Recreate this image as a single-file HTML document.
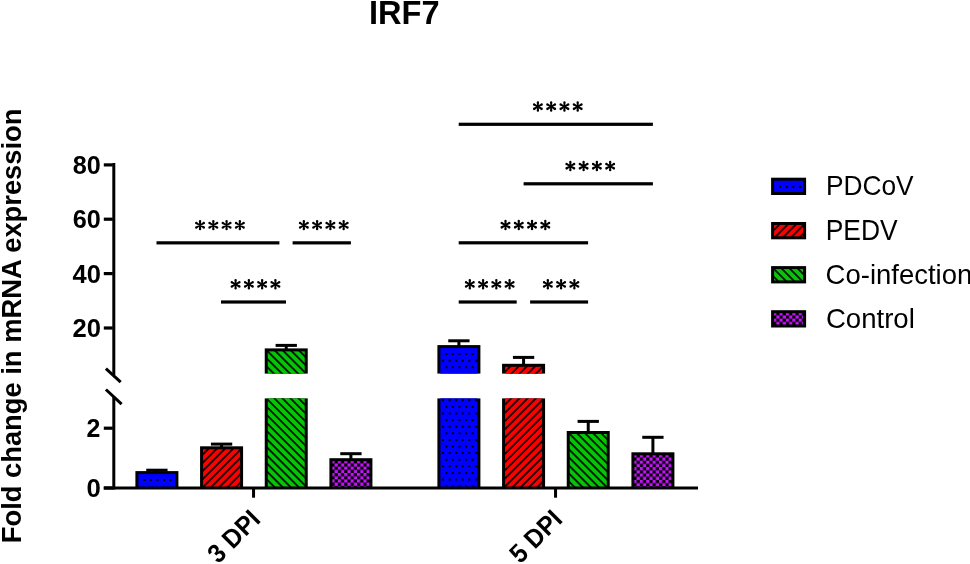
<!DOCTYPE html>
<html><head><meta charset="utf-8"><style>
html,body{margin:0;padding:0;background:#fff;width:970px;height:564px;overflow:hidden;}
svg{display:block;will-change:transform;}
</style></head><body>
<svg width="970" height="564" viewBox="0 0 970 564"><defs><pattern id="p3" patternUnits="userSpaceOnUse" width="5.8" height="5.8" patternTransform="translate(202.77 446.30) rotate(45)"><rect width="5.8" height="5.8" fill="#ff0000"/><rect x="-0.82" width="1.65" height="5.8" fill="#000"/><rect x="4.97" width="1.65" height="5.8" fill="#000"/></pattern><pattern id="p4" patternUnits="userSpaceOnUse" width="5.8" height="5.8" patternTransform="translate(504.77 363.80) rotate(45)"><rect width="5.8" height="5.8" fill="#ff0000"/><rect x="-0.82" width="1.65" height="5.8" fill="#000"/><rect x="4.97" width="1.65" height="5.8" fill="#000"/></pattern><pattern id="p5" patternUnits="userSpaceOnUse" width="5.7" height="5.7" patternTransform="translate(264.74 348.40) rotate(-45)"><rect width="5.7" height="5.7" fill="#08c408"/><rect x="-0.82" width="1.65" height="5.7" fill="#000"/><rect x="4.88" width="1.65" height="5.7" fill="#000"/></pattern><pattern id="p6" patternUnits="userSpaceOnUse" width="5.7" height="5.7" patternTransform="translate(566.74 431.00) rotate(-45)"><rect width="5.7" height="5.7" fill="#08c408"/><rect x="-0.82" width="1.65" height="5.7" fill="#000"/><rect x="4.88" width="1.65" height="5.7" fill="#000"/></pattern><pattern id="p7" patternUnits="userSpaceOnUse" x="331.41" y="460.20" width="6.4" height="6.4"><rect width="6.4" height="6.4" fill="#000"/><rect width="3.2" height="3.2" fill="#c414fa"/><rect x="3.2" y="3.2" width="3.2" height="3.2" fill="#c414fa"/></pattern><pattern id="p8" patternUnits="userSpaceOnUse" x="633.41" y="454.30" width="6.4" height="6.4"><rect width="6.4" height="6.4" fill="#000"/><rect width="3.2" height="3.2" fill="#c414fa"/><rect x="3.2" y="3.2" width="3.2" height="3.2" fill="#c414fa"/></pattern><pattern id="p9" patternUnits="userSpaceOnUse" width="5.8" height="5.8" patternTransform="translate(773.80 222.00) rotate(45)"><rect width="5.8" height="5.8" fill="#ff0000"/><rect x="-0.82" width="1.65" height="5.8" fill="#000"/><rect x="4.97" width="1.65" height="5.8" fill="#000"/></pattern><pattern id="p10" patternUnits="userSpaceOnUse" width="5.7" height="5.7" patternTransform="translate(771.10 266.10) rotate(-45)"><rect width="5.7" height="5.7" fill="#08c408"/><rect x="-0.82" width="1.65" height="5.7" fill="#000"/><rect x="4.88" width="1.65" height="5.7" fill="#000"/></pattern><pattern id="p11" patternUnits="userSpaceOnUse" x="773.10" y="312.20" width="6.4" height="6.4"><rect width="6.4" height="6.4" fill="#000"/><rect width="3.2" height="3.2" fill="#c414fa"/><rect x="3.2" y="3.2" width="3.2" height="3.2" fill="#c414fa"/></pattern></defs><text transform="translate(368.92 23.90) scale(0.9733 1)" font-family='"Liberation Sans", sans-serif' font-weight="bold" font-size="33.48">IRF7</text>
<text transform="translate(21.3 543.21) rotate(-90) scale(1 1.03)" font-family='"Liberation Sans", sans-serif' font-weight="bold" font-size="27.33">Fold change in mRNA expression</text>
<rect x="112.30" y="163" width="3" height="212" fill="#000"/>
<rect x="112.30" y="397" width="3" height="92.5" fill="#000"/>
<path d="M105.9 368.6L120.7 382.1M105.9 389.5L121.6 404.2" stroke="#000" stroke-width="3" fill="none"/>
<rect x="103.8" y="486.5" width="594.2" height="3" fill="#000"/>
<rect x="103.8" y="163.3" width="9" height="3.2" fill="#000"/>
<text transform="translate(72.64 173.94) scale(0.9668 1)" font-family='"Liberation Sans", sans-serif' font-weight="bold" font-size="26.06">80</text>
<rect x="103.8" y="217.6" width="9" height="3.2" fill="#000"/>
<text transform="translate(72.79 228.14) scale(0.9740 1)" font-family='"Liberation Sans", sans-serif' font-weight="bold" font-size="25.92">60</text>
<rect x="103.8" y="272.0" width="9" height="3.2" fill="#000"/>
<text transform="translate(72.49 282.54) scale(0.9903 1)" font-family='"Liberation Sans", sans-serif' font-weight="bold" font-size="25.77">40</text>
<rect x="103.8" y="326.4" width="9" height="3.2" fill="#000"/>
<text transform="translate(72.43 336.64) scale(0.9978 1)" font-family='"Liberation Sans", sans-serif' font-weight="bold" font-size="25.63">20</text>
<rect x="103.8" y="426.6" width="9" height="3.2" fill="#000"/>
<text transform="translate(86.55 437.40) scale(0.9683 1)" font-family='"Liberation Sans", sans-serif' font-weight="bold" font-size="25.71">2</text>
<rect x="103.8" y="486.4" width="9" height="3.2" fill="#000"/>
<text transform="translate(86.47 497.14) scale(0.9934 1)" font-family='"Liberation Sans", sans-serif' font-weight="bold" font-size="25.92">0</text>
<rect x="252.05" y="488" width="3" height="9.7" fill="#000"/>
<text transform="translate(261.85 520.9) rotate(-45) scale(0.955 1.02)" text-anchor="end" font-family='"Liberation Sans", sans-serif' font-weight="bold" font-size="25.8">3 DPI</text>
<rect x="554.05" y="488" width="3" height="9.7" fill="#000"/>
<text transform="translate(563.85 520.9) rotate(-45) scale(0.955 1.02)" text-anchor="end" font-family='"Liberation Sans", sans-serif' font-weight="bold" font-size="25.8">5 DPI</text>
<rect x="135.40" y="471.10" width="43.00" height="16.90" fill="#000"/><rect x="138.40" y="474.10" width="37.00" height="12.40" fill="#0000ff"/><path d="M143.40 479.10h2.00v2.00h-2.00zM149.95 479.10h2.00v2.00h-2.00zM156.50 479.10h2.00v2.00h-2.00zM163.05 479.10h2.00v2.00h-2.00zM169.60 479.10h2.00v2.00h-2.00z" fill="#000"/>
<rect x="146.25" y="468.70" width="21.30" height="3" fill="#000"/><rect x="155.40" y="469.70" width="3" height="2.40" fill="#000"/>
<rect x="437.40" y="345.10" width="43.00" height="28.50" fill="#000"/><rect x="440.40" y="348.10" width="37.00" height="25.50" fill="#0000ff"/><rect x="437.40" y="398.40" width="43.00" height="89.60" fill="#000"/><rect x="440.40" y="398.40" width="37.00" height="88.10" fill="#0000ff"/><path d="M445.40 353.10h2.00v2.00h-2.00zM451.95 353.10h2.00v2.00h-2.00zM458.50 353.10h2.00v2.00h-2.00zM465.05 353.10h2.00v2.00h-2.00zM471.60 353.10h2.00v2.00h-2.00zM442.12 359.70h2.00v2.00h-2.00zM448.68 359.70h2.00v2.00h-2.00zM455.23 359.70h2.00v2.00h-2.00zM461.77 359.70h2.00v2.00h-2.00zM468.32 359.70h2.00v2.00h-2.00zM474.88 359.70h2.00v2.00h-2.00zM445.40 366.30h2.00v2.00h-2.00zM451.95 366.30h2.00v2.00h-2.00zM458.50 366.30h2.00v2.00h-2.00zM465.05 366.30h2.00v2.00h-2.00zM471.60 366.30h2.00v2.00h-2.00zM442.12 399.30h2.00v2.00h-2.00zM448.68 399.30h2.00v2.00h-2.00zM455.23 399.30h2.00v2.00h-2.00zM461.77 399.30h2.00v2.00h-2.00zM468.32 399.30h2.00v2.00h-2.00zM474.88 399.30h2.00v2.00h-2.00zM445.40 405.90h2.00v2.00h-2.00zM451.95 405.90h2.00v2.00h-2.00zM458.50 405.90h2.00v2.00h-2.00zM465.05 405.90h2.00v2.00h-2.00zM471.60 405.90h2.00v2.00h-2.00zM442.12 412.50h2.00v2.00h-2.00zM448.68 412.50h2.00v2.00h-2.00zM455.23 412.50h2.00v2.00h-2.00zM461.77 412.50h2.00v2.00h-2.00zM468.32 412.50h2.00v2.00h-2.00zM474.88 412.50h2.00v2.00h-2.00zM445.40 419.10h2.00v2.00h-2.00zM451.95 419.10h2.00v2.00h-2.00zM458.50 419.10h2.00v2.00h-2.00zM465.05 419.10h2.00v2.00h-2.00zM471.60 419.10h2.00v2.00h-2.00zM442.12 425.70h2.00v2.00h-2.00zM448.68 425.70h2.00v2.00h-2.00zM455.23 425.70h2.00v2.00h-2.00zM461.77 425.70h2.00v2.00h-2.00zM468.32 425.70h2.00v2.00h-2.00zM474.88 425.70h2.00v2.00h-2.00zM445.40 432.30h2.00v2.00h-2.00zM451.95 432.30h2.00v2.00h-2.00zM458.50 432.30h2.00v2.00h-2.00zM465.05 432.30h2.00v2.00h-2.00zM471.60 432.30h2.00v2.00h-2.00zM442.12 438.90h2.00v2.00h-2.00zM448.68 438.90h2.00v2.00h-2.00zM455.23 438.90h2.00v2.00h-2.00zM461.77 438.90h2.00v2.00h-2.00zM468.32 438.90h2.00v2.00h-2.00zM474.88 438.90h2.00v2.00h-2.00zM445.40 445.50h2.00v2.00h-2.00zM451.95 445.50h2.00v2.00h-2.00zM458.50 445.50h2.00v2.00h-2.00zM465.05 445.50h2.00v2.00h-2.00zM471.60 445.50h2.00v2.00h-2.00zM442.12 452.10h2.00v2.00h-2.00zM448.68 452.10h2.00v2.00h-2.00zM455.23 452.10h2.00v2.00h-2.00zM461.77 452.10h2.00v2.00h-2.00zM468.32 452.10h2.00v2.00h-2.00zM474.88 452.10h2.00v2.00h-2.00zM445.40 458.70h2.00v2.00h-2.00zM451.95 458.70h2.00v2.00h-2.00zM458.50 458.70h2.00v2.00h-2.00zM465.05 458.70h2.00v2.00h-2.00zM471.60 458.70h2.00v2.00h-2.00zM442.12 465.30h2.00v2.00h-2.00zM448.68 465.30h2.00v2.00h-2.00zM455.23 465.30h2.00v2.00h-2.00zM461.77 465.30h2.00v2.00h-2.00zM468.32 465.30h2.00v2.00h-2.00zM474.88 465.30h2.00v2.00h-2.00zM445.40 471.90h2.00v2.00h-2.00zM451.95 471.90h2.00v2.00h-2.00zM458.50 471.90h2.00v2.00h-2.00zM465.05 471.90h2.00v2.00h-2.00zM471.60 471.90h2.00v2.00h-2.00zM442.12 478.50h2.00v2.00h-2.00zM448.68 478.50h2.00v2.00h-2.00zM455.23 478.50h2.00v2.00h-2.00zM461.77 478.50h2.00v2.00h-2.00zM468.32 478.50h2.00v2.00h-2.00zM474.88 478.50h2.00v2.00h-2.00zM445.40 485.10h2.00v1.40h-2.00zM451.95 485.10h2.00v1.40h-2.00zM458.50 485.10h2.00v1.40h-2.00zM465.05 485.10h2.00v1.40h-2.00zM471.60 485.10h2.00v1.40h-2.00z" fill="#000"/>
<rect x="448.25" y="339.30" width="21.30" height="3" fill="#000"/><rect x="457.40" y="340.30" width="3" height="5.80" fill="#000"/>
<rect x="200.07" y="446.30" width="43.00" height="41.70" fill="#000"/><rect x="203.07" y="449.30" width="37.00" height="37.20" fill="url(#p3)"/>
<rect x="210.92" y="442.60" width="21.30" height="3" fill="#000"/><rect x="220.07" y="443.60" width="3" height="3.70" fill="#000"/>
<rect x="502.07" y="363.80" width="43.00" height="9.80" fill="#000"/><rect x="505.07" y="366.80" width="37.00" height="6.80" fill="url(#p4)"/><rect x="502.07" y="398.40" width="43.00" height="89.60" fill="#000"/><rect x="505.07" y="398.40" width="37.00" height="88.10" fill="url(#p4)"/>
<rect x="512.92" y="355.90" width="21.30" height="3" fill="#000"/><rect x="522.07" y="356.90" width="3" height="7.90" fill="#000"/>
<rect x="264.74" y="348.40" width="43.00" height="25.20" fill="#000"/><rect x="267.74" y="351.40" width="37.00" height="22.20" fill="url(#p5)"/><rect x="264.74" y="398.40" width="43.00" height="89.60" fill="#000"/><rect x="267.74" y="398.40" width="37.00" height="88.10" fill="url(#p5)"/>
<rect x="275.59" y="343.90" width="21.30" height="3" fill="#000"/><rect x="284.74" y="344.90" width="3" height="4.50" fill="#000"/>
<rect x="566.74" y="431.00" width="43.00" height="57.00" fill="#000"/><rect x="569.74" y="434.00" width="37.00" height="52.50" fill="url(#p6)"/>
<rect x="577.59" y="419.90" width="21.30" height="3" fill="#000"/><rect x="586.74" y="420.90" width="3" height="11.10" fill="#000"/>
<rect x="329.41" y="458.20" width="43.00" height="29.80" fill="#000"/><rect x="332.41" y="461.20" width="37.00" height="25.30" fill="url(#p7)"/>
<rect x="340.26" y="452.20" width="21.30" height="3" fill="#000"/><rect x="349.41" y="453.20" width="3" height="6.00" fill="#000"/>
<rect x="631.41" y="452.30" width="43.00" height="35.70" fill="#000"/><rect x="634.41" y="455.30" width="37.00" height="31.20" fill="url(#p8)"/>
<rect x="642.26" y="435.80" width="21.30" height="3" fill="#000"/><rect x="651.41" y="436.80" width="3" height="16.50" fill="#000"/>
<rect x="156.50" y="241.25" width="122.90" height="3.2" fill="#000"/>
<rect x="292.60" y="241.25" width="58.30" height="3.2" fill="#000"/>
<rect x="221.00" y="300.40" width="65.00" height="3.2" fill="#000"/>
<rect x="458.70" y="122.70" width="194.20" height="3.2" fill="#000"/>
<rect x="523.60" y="182.20" width="129.30" height="3.2" fill="#000"/>
<rect x="458.70" y="241.20" width="129.40" height="3.2" fill="#000"/>
<rect x="458.70" y="300.40" width="58.00" height="3.2" fill="#000"/>
<rect x="530.10" y="300.40" width="58.00" height="3.2" fill="#000"/>
<path d="M200.72 225.25L201.22 221.18L198.87 221.18L199.37 225.25ZM201.22 221.18a1.18 1.18 0 1 0 -2.35 0a1.18 1.18 0 1 0 2.35 0ZM199.37 225.25L198.87 229.07L201.22 229.07L200.72 225.25ZM201.22 229.07a1.18 1.18 0 1 0 -2.35 0a1.18 1.18 0 1 0 2.35 0ZM200.38 224.67L196.86 222.05L195.68 224.09L199.71 225.83ZM197.44 223.07a1.18 1.18 0 1 0 -2.35 0a1.18 1.18 0 1 0 2.35 0ZM200.38 225.83L204.41 224.09L203.23 222.05L199.71 224.67ZM205.00 223.07a1.18 1.18 0 1 0 -2.35 0a1.18 1.18 0 1 0 2.35 0ZM199.71 225.83L203.23 228.45L204.41 226.41L200.38 224.67ZM205.00 227.43a1.18 1.18 0 1 0 -2.35 0a1.18 1.18 0 1 0 2.35 0ZM199.71 224.67L195.68 226.41L196.86 228.45L200.38 225.83ZM197.44 227.43a1.18 1.18 0 1 0 -2.35 0a1.18 1.18 0 1 0 2.35 0ZM201.29 225.25a1.25 1.25 0 1 0 -2.5 0a1.25 1.25 0 1 0 2.5 0ZM213.99 225.25L214.49 221.18L212.14 221.18L212.64 225.25ZM214.49 221.18a1.18 1.18 0 1 0 -2.35 0a1.18 1.18 0 1 0 2.35 0ZM212.64 225.25L212.14 229.07L214.49 229.07L213.99 225.25ZM214.49 229.07a1.18 1.18 0 1 0 -2.35 0a1.18 1.18 0 1 0 2.35 0ZM213.65 224.67L210.13 222.05L208.95 224.09L212.98 225.83ZM210.72 223.07a1.18 1.18 0 1 0 -2.35 0a1.18 1.18 0 1 0 2.35 0ZM213.65 225.83L217.68 224.09L216.50 222.05L212.98 224.67ZM218.27 223.07a1.18 1.18 0 1 0 -2.35 0a1.18 1.18 0 1 0 2.35 0ZM212.98 225.83L216.50 228.45L217.68 226.41L213.65 224.67ZM218.27 227.43a1.18 1.18 0 1 0 -2.35 0a1.18 1.18 0 1 0 2.35 0ZM212.98 224.67L208.95 226.41L210.13 228.45L213.65 225.83ZM210.72 227.43a1.18 1.18 0 1 0 -2.35 0a1.18 1.18 0 1 0 2.35 0ZM214.56 225.25a1.25 1.25 0 1 0 -2.5 0a1.25 1.25 0 1 0 2.5 0ZM227.26 225.25L227.76 221.18L225.41 221.18L225.91 225.25ZM227.76 221.18a1.18 1.18 0 1 0 -2.35 0a1.18 1.18 0 1 0 2.35 0ZM225.91 225.25L225.41 229.07L227.76 229.07L227.26 225.25ZM227.76 229.07a1.18 1.18 0 1 0 -2.35 0a1.18 1.18 0 1 0 2.35 0ZM226.92 224.67L223.40 222.05L222.22 224.09L226.25 225.83ZM223.98 223.07a1.18 1.18 0 1 0 -2.35 0a1.18 1.18 0 1 0 2.35 0ZM226.92 225.83L230.95 224.09L229.77 222.05L226.25 224.67ZM231.53 223.07a1.18 1.18 0 1 0 -2.35 0a1.18 1.18 0 1 0 2.35 0ZM226.25 225.83L229.77 228.45L230.95 226.41L226.92 224.67ZM231.53 227.43a1.18 1.18 0 1 0 -2.35 0a1.18 1.18 0 1 0 2.35 0ZM226.25 224.67L222.22 226.41L223.40 228.45L226.92 225.83ZM223.98 227.43a1.18 1.18 0 1 0 -2.35 0a1.18 1.18 0 1 0 2.35 0ZM227.83 225.25a1.25 1.25 0 1 0 -2.5 0a1.25 1.25 0 1 0 2.5 0ZM240.53 225.25L241.03 221.18L238.68 221.18L239.18 225.25ZM241.03 221.18a1.18 1.18 0 1 0 -2.35 0a1.18 1.18 0 1 0 2.35 0ZM239.18 225.25L238.68 229.07L241.03 229.07L240.53 225.25ZM241.03 229.07a1.18 1.18 0 1 0 -2.35 0a1.18 1.18 0 1 0 2.35 0ZM240.19 224.67L236.67 222.05L235.49 224.09L239.52 225.83ZM237.25 223.07a1.18 1.18 0 1 0 -2.35 0a1.18 1.18 0 1 0 2.35 0ZM240.19 225.83L244.22 224.09L243.04 222.05L239.52 224.67ZM244.81 223.07a1.18 1.18 0 1 0 -2.35 0a1.18 1.18 0 1 0 2.35 0ZM239.52 225.83L243.04 228.45L244.22 226.41L240.19 224.67ZM244.81 227.43a1.18 1.18 0 1 0 -2.35 0a1.18 1.18 0 1 0 2.35 0ZM239.52 224.67L235.49 226.41L236.67 228.45L240.19 225.83ZM237.25 227.43a1.18 1.18 0 1 0 -2.35 0a1.18 1.18 0 1 0 2.35 0ZM241.10 225.25a1.25 1.25 0 1 0 -2.5 0a1.25 1.25 0 1 0 2.5 0ZM304.52 225.25L305.02 221.18L302.67 221.18L303.17 225.25ZM305.02 221.18a1.18 1.18 0 1 0 -2.35 0a1.18 1.18 0 1 0 2.35 0ZM303.17 225.25L302.67 229.07L305.02 229.07L304.52 225.25ZM305.02 229.07a1.18 1.18 0 1 0 -2.35 0a1.18 1.18 0 1 0 2.35 0ZM304.18 224.67L300.66 222.05L299.48 224.09L303.51 225.83ZM301.25 223.07a1.18 1.18 0 1 0 -2.35 0a1.18 1.18 0 1 0 2.35 0ZM304.18 225.83L308.21 224.09L307.03 222.05L303.51 224.67ZM308.80 223.07a1.18 1.18 0 1 0 -2.35 0a1.18 1.18 0 1 0 2.35 0ZM303.51 225.83L307.03 228.45L308.21 226.41L304.18 224.67ZM308.80 227.43a1.18 1.18 0 1 0 -2.35 0a1.18 1.18 0 1 0 2.35 0ZM303.51 224.67L299.48 226.41L300.66 228.45L304.18 225.83ZM301.25 227.43a1.18 1.18 0 1 0 -2.35 0a1.18 1.18 0 1 0 2.35 0ZM305.10 225.25a1.25 1.25 0 1 0 -2.5 0a1.25 1.25 0 1 0 2.5 0ZM317.79 225.25L318.29 221.18L315.94 221.18L316.44 225.25ZM318.29 221.18a1.18 1.18 0 1 0 -2.35 0a1.18 1.18 0 1 0 2.35 0ZM316.44 225.25L315.94 229.07L318.29 229.07L317.79 225.25ZM318.29 229.07a1.18 1.18 0 1 0 -2.35 0a1.18 1.18 0 1 0 2.35 0ZM317.45 224.67L313.93 222.05L312.75 224.09L316.78 225.83ZM314.52 223.07a1.18 1.18 0 1 0 -2.35 0a1.18 1.18 0 1 0 2.35 0ZM317.45 225.83L321.48 224.09L320.30 222.05L316.78 224.67ZM322.06 223.07a1.18 1.18 0 1 0 -2.35 0a1.18 1.18 0 1 0 2.35 0ZM316.78 225.83L320.30 228.45L321.48 226.41L317.45 224.67ZM322.06 227.43a1.18 1.18 0 1 0 -2.35 0a1.18 1.18 0 1 0 2.35 0ZM316.78 224.67L312.75 226.41L313.93 228.45L317.45 225.83ZM314.52 227.43a1.18 1.18 0 1 0 -2.35 0a1.18 1.18 0 1 0 2.35 0ZM318.37 225.25a1.25 1.25 0 1 0 -2.5 0a1.25 1.25 0 1 0 2.5 0ZM331.06 225.25L331.56 221.18L329.21 221.18L329.71 225.25ZM331.56 221.18a1.18 1.18 0 1 0 -2.35 0a1.18 1.18 0 1 0 2.35 0ZM329.71 225.25L329.21 229.07L331.56 229.07L331.06 225.25ZM331.56 229.07a1.18 1.18 0 1 0 -2.35 0a1.18 1.18 0 1 0 2.35 0ZM330.72 224.67L327.20 222.05L326.02 224.09L330.05 225.83ZM327.79 223.07a1.18 1.18 0 1 0 -2.35 0a1.18 1.18 0 1 0 2.35 0ZM330.72 225.83L334.75 224.09L333.57 222.05L330.05 224.67ZM335.34 223.07a1.18 1.18 0 1 0 -2.35 0a1.18 1.18 0 1 0 2.35 0ZM330.05 225.83L333.57 228.45L334.75 226.41L330.72 224.67ZM335.34 227.43a1.18 1.18 0 1 0 -2.35 0a1.18 1.18 0 1 0 2.35 0ZM330.05 224.67L326.02 226.41L327.20 228.45L330.72 225.83ZM327.79 227.43a1.18 1.18 0 1 0 -2.35 0a1.18 1.18 0 1 0 2.35 0ZM331.64 225.25a1.25 1.25 0 1 0 -2.5 0a1.25 1.25 0 1 0 2.5 0ZM344.33 225.25L344.83 221.18L342.48 221.18L342.98 225.25ZM344.83 221.18a1.18 1.18 0 1 0 -2.35 0a1.18 1.18 0 1 0 2.35 0ZM342.98 225.25L342.48 229.07L344.83 229.07L344.33 225.25ZM344.83 229.07a1.18 1.18 0 1 0 -2.35 0a1.18 1.18 0 1 0 2.35 0ZM343.99 224.67L340.47 222.05L339.29 224.09L343.32 225.83ZM341.06 223.07a1.18 1.18 0 1 0 -2.35 0a1.18 1.18 0 1 0 2.35 0ZM343.99 225.83L348.02 224.09L346.84 222.05L343.32 224.67ZM348.61 223.07a1.18 1.18 0 1 0 -2.35 0a1.18 1.18 0 1 0 2.35 0ZM343.32 225.83L346.84 228.45L348.02 226.41L343.99 224.67ZM348.61 227.43a1.18 1.18 0 1 0 -2.35 0a1.18 1.18 0 1 0 2.35 0ZM343.32 224.67L339.29 226.41L340.47 228.45L343.99 225.83ZM341.06 227.43a1.18 1.18 0 1 0 -2.35 0a1.18 1.18 0 1 0 2.35 0ZM344.91 225.25a1.25 1.25 0 1 0 -2.5 0a1.25 1.25 0 1 0 2.5 0ZM236.27 284.40L236.77 280.32L234.42 280.32L234.92 284.40ZM236.77 280.32a1.18 1.18 0 1 0 -2.35 0a1.18 1.18 0 1 0 2.35 0ZM234.92 284.40L234.42 288.22L236.77 288.22L236.27 284.40ZM236.77 288.22a1.18 1.18 0 1 0 -2.35 0a1.18 1.18 0 1 0 2.35 0ZM235.93 283.82L232.41 281.20L231.23 283.24L235.26 284.98ZM233.00 282.22a1.18 1.18 0 1 0 -2.35 0a1.18 1.18 0 1 0 2.35 0ZM235.93 284.98L239.96 283.24L238.78 281.20L235.26 283.82ZM240.55 282.22a1.18 1.18 0 1 0 -2.35 0a1.18 1.18 0 1 0 2.35 0ZM235.26 284.98L238.78 287.60L239.96 285.56L235.93 283.82ZM240.55 286.58a1.18 1.18 0 1 0 -2.35 0a1.18 1.18 0 1 0 2.35 0ZM235.26 283.82L231.23 285.56L232.41 287.60L235.93 284.98ZM233.00 286.58a1.18 1.18 0 1 0 -2.35 0a1.18 1.18 0 1 0 2.35 0ZM236.84 284.40a1.25 1.25 0 1 0 -2.5 0a1.25 1.25 0 1 0 2.5 0ZM249.54 284.40L250.04 280.32L247.69 280.32L248.19 284.40ZM250.04 280.32a1.18 1.18 0 1 0 -2.35 0a1.18 1.18 0 1 0 2.35 0ZM248.19 284.40L247.69 288.22L250.04 288.22L249.54 284.40ZM250.04 288.22a1.18 1.18 0 1 0 -2.35 0a1.18 1.18 0 1 0 2.35 0ZM249.20 283.82L245.68 281.20L244.50 283.24L248.53 284.98ZM246.27 282.22a1.18 1.18 0 1 0 -2.35 0a1.18 1.18 0 1 0 2.35 0ZM249.20 284.98L253.23 283.24L252.05 281.20L248.53 283.82ZM253.82 282.22a1.18 1.18 0 1 0 -2.35 0a1.18 1.18 0 1 0 2.35 0ZM248.53 284.98L252.05 287.60L253.23 285.56L249.20 283.82ZM253.82 286.58a1.18 1.18 0 1 0 -2.35 0a1.18 1.18 0 1 0 2.35 0ZM248.53 283.82L244.50 285.56L245.68 287.60L249.20 284.98ZM246.27 286.58a1.18 1.18 0 1 0 -2.35 0a1.18 1.18 0 1 0 2.35 0ZM250.12 284.40a1.25 1.25 0 1 0 -2.5 0a1.25 1.25 0 1 0 2.5 0ZM262.81 284.40L263.31 280.32L260.96 280.32L261.46 284.40ZM263.31 280.32a1.18 1.18 0 1 0 -2.35 0a1.18 1.18 0 1 0 2.35 0ZM261.46 284.40L260.96 288.22L263.31 288.22L262.81 284.40ZM263.31 288.22a1.18 1.18 0 1 0 -2.35 0a1.18 1.18 0 1 0 2.35 0ZM262.47 283.82L258.95 281.20L257.77 283.24L261.80 284.98ZM259.54 282.22a1.18 1.18 0 1 0 -2.35 0a1.18 1.18 0 1 0 2.35 0ZM262.47 284.98L266.50 283.24L265.32 281.20L261.80 283.82ZM267.08 282.22a1.18 1.18 0 1 0 -2.35 0a1.18 1.18 0 1 0 2.35 0ZM261.80 284.98L265.32 287.60L266.50 285.56L262.47 283.82ZM267.08 286.58a1.18 1.18 0 1 0 -2.35 0a1.18 1.18 0 1 0 2.35 0ZM261.80 283.82L257.77 285.56L258.95 287.60L262.47 284.98ZM259.54 286.58a1.18 1.18 0 1 0 -2.35 0a1.18 1.18 0 1 0 2.35 0ZM263.38 284.40a1.25 1.25 0 1 0 -2.5 0a1.25 1.25 0 1 0 2.5 0ZM276.08 284.40L276.58 280.32L274.23 280.32L274.73 284.40ZM276.58 280.32a1.18 1.18 0 1 0 -2.35 0a1.18 1.18 0 1 0 2.35 0ZM274.73 284.40L274.23 288.22L276.58 288.22L276.08 284.40ZM276.58 288.22a1.18 1.18 0 1 0 -2.35 0a1.18 1.18 0 1 0 2.35 0ZM275.74 283.82L272.22 281.20L271.04 283.24L275.07 284.98ZM272.81 282.22a1.18 1.18 0 1 0 -2.35 0a1.18 1.18 0 1 0 2.35 0ZM275.74 284.98L279.77 283.24L278.59 281.20L275.07 283.82ZM280.35 282.22a1.18 1.18 0 1 0 -2.35 0a1.18 1.18 0 1 0 2.35 0ZM275.07 284.98L278.59 287.60L279.77 285.56L275.74 283.82ZM280.35 286.58a1.18 1.18 0 1 0 -2.35 0a1.18 1.18 0 1 0 2.35 0ZM275.07 283.82L271.04 285.56L272.22 287.60L275.74 284.98ZM272.81 286.58a1.18 1.18 0 1 0 -2.35 0a1.18 1.18 0 1 0 2.35 0ZM276.65 284.40a1.25 1.25 0 1 0 -2.5 0a1.25 1.25 0 1 0 2.5 0ZM538.57 106.70L539.07 102.62L536.72 102.62L537.22 106.70ZM539.07 102.62a1.18 1.18 0 1 0 -2.35 0a1.18 1.18 0 1 0 2.35 0ZM537.22 106.70L536.72 110.52L539.07 110.52L538.57 106.70ZM539.07 110.52a1.18 1.18 0 1 0 -2.35 0a1.18 1.18 0 1 0 2.35 0ZM538.23 106.12L534.71 103.50L533.53 105.54L537.56 107.28ZM535.29 104.52a1.18 1.18 0 1 0 -2.35 0a1.18 1.18 0 1 0 2.35 0ZM538.23 107.28L542.26 105.54L541.08 103.50L537.56 106.12ZM542.84 104.52a1.18 1.18 0 1 0 -2.35 0a1.18 1.18 0 1 0 2.35 0ZM537.56 107.28L541.08 109.90L542.26 107.86L538.23 106.12ZM542.84 108.88a1.18 1.18 0 1 0 -2.35 0a1.18 1.18 0 1 0 2.35 0ZM537.56 106.12L533.53 107.86L534.71 109.90L538.23 107.28ZM535.29 108.88a1.18 1.18 0 1 0 -2.35 0a1.18 1.18 0 1 0 2.35 0ZM539.14 106.70a1.25 1.25 0 1 0 -2.5 0a1.25 1.25 0 1 0 2.5 0ZM551.84 106.70L552.34 102.62L549.99 102.62L550.49 106.70ZM552.34 102.62a1.18 1.18 0 1 0 -2.35 0a1.18 1.18 0 1 0 2.35 0ZM550.49 106.70L549.99 110.52L552.34 110.52L551.84 106.70ZM552.34 110.52a1.18 1.18 0 1 0 -2.35 0a1.18 1.18 0 1 0 2.35 0ZM551.50 106.12L547.98 103.50L546.80 105.54L550.83 107.28ZM548.56 104.52a1.18 1.18 0 1 0 -2.35 0a1.18 1.18 0 1 0 2.35 0ZM551.50 107.28L555.53 105.54L554.35 103.50L550.83 106.12ZM556.11 104.52a1.18 1.18 0 1 0 -2.35 0a1.18 1.18 0 1 0 2.35 0ZM550.83 107.28L554.35 109.90L555.53 107.86L551.50 106.12ZM556.11 108.88a1.18 1.18 0 1 0 -2.35 0a1.18 1.18 0 1 0 2.35 0ZM550.83 106.12L546.80 107.86L547.98 109.90L551.50 107.28ZM548.56 108.88a1.18 1.18 0 1 0 -2.35 0a1.18 1.18 0 1 0 2.35 0ZM552.41 106.70a1.25 1.25 0 1 0 -2.5 0a1.25 1.25 0 1 0 2.5 0ZM565.11 106.70L565.61 102.62L563.26 102.62L563.76 106.70ZM565.61 102.62a1.18 1.18 0 1 0 -2.35 0a1.18 1.18 0 1 0 2.35 0ZM563.76 106.70L563.26 110.52L565.61 110.52L565.11 106.70ZM565.61 110.52a1.18 1.18 0 1 0 -2.35 0a1.18 1.18 0 1 0 2.35 0ZM564.77 106.12L561.25 103.50L560.07 105.54L564.10 107.28ZM561.83 104.52a1.18 1.18 0 1 0 -2.35 0a1.18 1.18 0 1 0 2.35 0ZM564.77 107.28L568.80 105.54L567.62 103.50L564.10 106.12ZM569.38 104.52a1.18 1.18 0 1 0 -2.35 0a1.18 1.18 0 1 0 2.35 0ZM564.10 107.28L567.62 109.90L568.80 107.86L564.77 106.12ZM569.38 108.88a1.18 1.18 0 1 0 -2.35 0a1.18 1.18 0 1 0 2.35 0ZM564.10 106.12L560.07 107.86L561.25 109.90L564.77 107.28ZM561.83 108.88a1.18 1.18 0 1 0 -2.35 0a1.18 1.18 0 1 0 2.35 0ZM565.68 106.70a1.25 1.25 0 1 0 -2.5 0a1.25 1.25 0 1 0 2.5 0ZM578.38 106.70L578.88 102.62L576.53 102.62L577.03 106.70ZM578.88 102.62a1.18 1.18 0 1 0 -2.35 0a1.18 1.18 0 1 0 2.35 0ZM577.03 106.70L576.53 110.52L578.88 110.52L578.38 106.70ZM578.88 110.52a1.18 1.18 0 1 0 -2.35 0a1.18 1.18 0 1 0 2.35 0ZM578.04 106.12L574.52 103.50L573.34 105.54L577.37 107.28ZM575.10 104.52a1.18 1.18 0 1 0 -2.35 0a1.18 1.18 0 1 0 2.35 0ZM578.04 107.28L582.07 105.54L580.89 103.50L577.37 106.12ZM582.65 104.52a1.18 1.18 0 1 0 -2.35 0a1.18 1.18 0 1 0 2.35 0ZM577.37 107.28L580.89 109.90L582.07 107.86L578.04 106.12ZM582.65 108.88a1.18 1.18 0 1 0 -2.35 0a1.18 1.18 0 1 0 2.35 0ZM577.37 106.12L573.34 107.86L574.52 109.90L578.04 107.28ZM575.10 108.88a1.18 1.18 0 1 0 -2.35 0a1.18 1.18 0 1 0 2.35 0ZM578.95 106.70a1.25 1.25 0 1 0 -2.5 0a1.25 1.25 0 1 0 2.5 0ZM571.02 166.20L571.52 162.13L569.17 162.13L569.67 166.20ZM571.52 162.13a1.18 1.18 0 1 0 -2.35 0a1.18 1.18 0 1 0 2.35 0ZM569.67 166.20L569.17 170.03L571.52 170.03L571.02 166.20ZM571.52 170.03a1.18 1.18 0 1 0 -2.35 0a1.18 1.18 0 1 0 2.35 0ZM570.68 165.62L567.16 163.00L565.98 165.04L570.01 166.78ZM567.75 164.02a1.18 1.18 0 1 0 -2.35 0a1.18 1.18 0 1 0 2.35 0ZM570.68 166.78L574.71 165.04L573.53 163.00L570.01 165.62ZM575.29 164.02a1.18 1.18 0 1 0 -2.35 0a1.18 1.18 0 1 0 2.35 0ZM570.01 166.78L573.53 169.40L574.71 167.36L570.68 165.62ZM575.29 168.38a1.18 1.18 0 1 0 -2.35 0a1.18 1.18 0 1 0 2.35 0ZM570.01 165.62L565.98 167.36L567.16 169.40L570.68 166.78ZM567.75 168.38a1.18 1.18 0 1 0 -2.35 0a1.18 1.18 0 1 0 2.35 0ZM571.60 166.20a1.25 1.25 0 1 0 -2.5 0a1.25 1.25 0 1 0 2.5 0ZM584.29 166.20L584.79 162.13L582.44 162.13L582.94 166.20ZM584.79 162.13a1.18 1.18 0 1 0 -2.35 0a1.18 1.18 0 1 0 2.35 0ZM582.94 166.20L582.44 170.03L584.79 170.03L584.29 166.20ZM584.79 170.03a1.18 1.18 0 1 0 -2.35 0a1.18 1.18 0 1 0 2.35 0ZM583.95 165.62L580.43 163.00L579.25 165.04L583.28 166.78ZM581.01 164.02a1.18 1.18 0 1 0 -2.35 0a1.18 1.18 0 1 0 2.35 0ZM583.95 166.78L587.98 165.04L586.80 163.00L583.28 165.62ZM588.56 164.02a1.18 1.18 0 1 0 -2.35 0a1.18 1.18 0 1 0 2.35 0ZM583.28 166.78L586.80 169.40L587.98 167.36L583.95 165.62ZM588.56 168.38a1.18 1.18 0 1 0 -2.35 0a1.18 1.18 0 1 0 2.35 0ZM583.28 165.62L579.25 167.36L580.43 169.40L583.95 166.78ZM581.01 168.38a1.18 1.18 0 1 0 -2.35 0a1.18 1.18 0 1 0 2.35 0ZM584.87 166.20a1.25 1.25 0 1 0 -2.5 0a1.25 1.25 0 1 0 2.5 0ZM597.56 166.20L598.06 162.13L595.71 162.13L596.21 166.20ZM598.06 162.13a1.18 1.18 0 1 0 -2.35 0a1.18 1.18 0 1 0 2.35 0ZM596.21 166.20L595.71 170.03L598.06 170.03L597.56 166.20ZM598.06 170.03a1.18 1.18 0 1 0 -2.35 0a1.18 1.18 0 1 0 2.35 0ZM597.22 165.62L593.70 163.00L592.52 165.04L596.55 166.78ZM594.28 164.02a1.18 1.18 0 1 0 -2.35 0a1.18 1.18 0 1 0 2.35 0ZM597.22 166.78L601.25 165.04L600.07 163.00L596.55 165.62ZM601.83 164.02a1.18 1.18 0 1 0 -2.35 0a1.18 1.18 0 1 0 2.35 0ZM596.55 166.78L600.07 169.40L601.25 167.36L597.22 165.62ZM601.83 168.38a1.18 1.18 0 1 0 -2.35 0a1.18 1.18 0 1 0 2.35 0ZM596.55 165.62L592.52 167.36L593.70 169.40L597.22 166.78ZM594.28 168.38a1.18 1.18 0 1 0 -2.35 0a1.18 1.18 0 1 0 2.35 0ZM598.13 166.20a1.25 1.25 0 1 0 -2.5 0a1.25 1.25 0 1 0 2.5 0ZM610.83 166.20L611.33 162.13L608.98 162.13L609.48 166.20ZM611.33 162.13a1.18 1.18 0 1 0 -2.35 0a1.18 1.18 0 1 0 2.35 0ZM609.48 166.20L608.98 170.03L611.33 170.03L610.83 166.20ZM611.33 170.03a1.18 1.18 0 1 0 -2.35 0a1.18 1.18 0 1 0 2.35 0ZM610.49 165.62L606.97 163.00L605.79 165.04L609.82 166.78ZM607.55 164.02a1.18 1.18 0 1 0 -2.35 0a1.18 1.18 0 1 0 2.35 0ZM610.49 166.78L614.52 165.04L613.34 163.00L609.82 165.62ZM615.10 164.02a1.18 1.18 0 1 0 -2.35 0a1.18 1.18 0 1 0 2.35 0ZM609.82 166.78L613.34 169.40L614.52 167.36L610.49 165.62ZM615.10 168.38a1.18 1.18 0 1 0 -2.35 0a1.18 1.18 0 1 0 2.35 0ZM609.82 165.62L605.79 167.36L606.97 169.40L610.49 166.78ZM607.55 168.38a1.18 1.18 0 1 0 -2.35 0a1.18 1.18 0 1 0 2.35 0ZM611.40 166.20a1.25 1.25 0 1 0 -2.5 0a1.25 1.25 0 1 0 2.5 0ZM506.17 225.20L506.67 221.13L504.32 221.13L504.82 225.20ZM506.67 221.13a1.18 1.18 0 1 0 -2.35 0a1.18 1.18 0 1 0 2.35 0ZM504.82 225.20L504.32 229.03L506.67 229.03L506.17 225.20ZM506.67 229.03a1.18 1.18 0 1 0 -2.35 0a1.18 1.18 0 1 0 2.35 0ZM505.83 224.62L502.31 222.00L501.13 224.04L505.16 225.78ZM502.90 223.02a1.18 1.18 0 1 0 -2.35 0a1.18 1.18 0 1 0 2.35 0ZM505.83 225.78L509.86 224.04L508.68 222.00L505.16 224.62ZM510.44 223.02a1.18 1.18 0 1 0 -2.35 0a1.18 1.18 0 1 0 2.35 0ZM505.16 225.78L508.68 228.40L509.86 226.36L505.83 224.62ZM510.44 227.38a1.18 1.18 0 1 0 -2.35 0a1.18 1.18 0 1 0 2.35 0ZM505.16 224.62L501.13 226.36L502.31 228.40L505.83 225.78ZM502.90 227.38a1.18 1.18 0 1 0 -2.35 0a1.18 1.18 0 1 0 2.35 0ZM506.75 225.20a1.25 1.25 0 1 0 -2.5 0a1.25 1.25 0 1 0 2.5 0ZM519.44 225.20L519.94 221.13L517.59 221.13L518.09 225.20ZM519.94 221.13a1.18 1.18 0 1 0 -2.35 0a1.18 1.18 0 1 0 2.35 0ZM518.09 225.20L517.59 229.03L519.94 229.03L519.44 225.20ZM519.94 229.03a1.18 1.18 0 1 0 -2.35 0a1.18 1.18 0 1 0 2.35 0ZM519.10 224.62L515.58 222.00L514.40 224.04L518.43 225.78ZM516.16 223.02a1.18 1.18 0 1 0 -2.35 0a1.18 1.18 0 1 0 2.35 0ZM519.10 225.78L523.13 224.04L521.95 222.00L518.43 224.62ZM523.71 223.02a1.18 1.18 0 1 0 -2.35 0a1.18 1.18 0 1 0 2.35 0ZM518.43 225.78L521.95 228.40L523.13 226.36L519.10 224.62ZM523.71 227.38a1.18 1.18 0 1 0 -2.35 0a1.18 1.18 0 1 0 2.35 0ZM518.43 224.62L514.40 226.36L515.58 228.40L519.10 225.78ZM516.16 227.38a1.18 1.18 0 1 0 -2.35 0a1.18 1.18 0 1 0 2.35 0ZM520.01 225.20a1.25 1.25 0 1 0 -2.5 0a1.25 1.25 0 1 0 2.5 0ZM532.71 225.20L533.21 221.13L530.86 221.13L531.36 225.20ZM533.21 221.13a1.18 1.18 0 1 0 -2.35 0a1.18 1.18 0 1 0 2.35 0ZM531.36 225.20L530.86 229.03L533.21 229.03L532.71 225.20ZM533.21 229.03a1.18 1.18 0 1 0 -2.35 0a1.18 1.18 0 1 0 2.35 0ZM532.37 224.62L528.85 222.00L527.67 224.04L531.70 225.78ZM529.43 223.02a1.18 1.18 0 1 0 -2.35 0a1.18 1.18 0 1 0 2.35 0ZM532.37 225.78L536.40 224.04L535.22 222.00L531.70 224.62ZM536.98 223.02a1.18 1.18 0 1 0 -2.35 0a1.18 1.18 0 1 0 2.35 0ZM531.70 225.78L535.22 228.40L536.40 226.36L532.37 224.62ZM536.98 227.38a1.18 1.18 0 1 0 -2.35 0a1.18 1.18 0 1 0 2.35 0ZM531.70 224.62L527.67 226.36L528.85 228.40L532.37 225.78ZM529.43 227.38a1.18 1.18 0 1 0 -2.35 0a1.18 1.18 0 1 0 2.35 0ZM533.28 225.20a1.25 1.25 0 1 0 -2.5 0a1.25 1.25 0 1 0 2.5 0ZM545.98 225.20L546.48 221.13L544.13 221.13L544.63 225.20ZM546.48 221.13a1.18 1.18 0 1 0 -2.35 0a1.18 1.18 0 1 0 2.35 0ZM544.63 225.20L544.13 229.03L546.48 229.03L545.98 225.20ZM546.48 229.03a1.18 1.18 0 1 0 -2.35 0a1.18 1.18 0 1 0 2.35 0ZM545.64 224.62L542.12 222.00L540.94 224.04L544.97 225.78ZM542.71 223.02a1.18 1.18 0 1 0 -2.35 0a1.18 1.18 0 1 0 2.35 0ZM545.64 225.78L549.67 224.04L548.49 222.00L544.97 224.62ZM550.25 223.02a1.18 1.18 0 1 0 -2.35 0a1.18 1.18 0 1 0 2.35 0ZM544.97 225.78L548.49 228.40L549.67 226.36L545.64 224.62ZM550.25 227.38a1.18 1.18 0 1 0 -2.35 0a1.18 1.18 0 1 0 2.35 0ZM544.97 224.62L540.94 226.36L542.12 228.40L545.64 225.78ZM542.71 227.38a1.18 1.18 0 1 0 -2.35 0a1.18 1.18 0 1 0 2.35 0ZM546.56 225.20a1.25 1.25 0 1 0 -2.5 0a1.25 1.25 0 1 0 2.5 0ZM470.47 284.40L470.97 280.32L468.62 280.32L469.12 284.40ZM470.97 280.32a1.18 1.18 0 1 0 -2.35 0a1.18 1.18 0 1 0 2.35 0ZM469.12 284.40L468.62 288.22L470.97 288.22L470.47 284.40ZM470.97 288.22a1.18 1.18 0 1 0 -2.35 0a1.18 1.18 0 1 0 2.35 0ZM470.13 283.82L466.61 281.20L465.43 283.24L469.46 284.98ZM467.20 282.22a1.18 1.18 0 1 0 -2.35 0a1.18 1.18 0 1 0 2.35 0ZM470.13 284.98L474.16 283.24L472.98 281.20L469.46 283.82ZM474.75 282.22a1.18 1.18 0 1 0 -2.35 0a1.18 1.18 0 1 0 2.35 0ZM469.46 284.98L472.98 287.60L474.16 285.56L470.13 283.82ZM474.75 286.58a1.18 1.18 0 1 0 -2.35 0a1.18 1.18 0 1 0 2.35 0ZM469.46 283.82L465.43 285.56L466.61 287.60L470.13 284.98ZM467.20 286.58a1.18 1.18 0 1 0 -2.35 0a1.18 1.18 0 1 0 2.35 0ZM471.05 284.40a1.25 1.25 0 1 0 -2.5 0a1.25 1.25 0 1 0 2.5 0ZM483.74 284.40L484.24 280.32L481.89 280.32L482.39 284.40ZM484.24 280.32a1.18 1.18 0 1 0 -2.35 0a1.18 1.18 0 1 0 2.35 0ZM482.39 284.40L481.89 288.22L484.24 288.22L483.74 284.40ZM484.24 288.22a1.18 1.18 0 1 0 -2.35 0a1.18 1.18 0 1 0 2.35 0ZM483.40 283.82L479.88 281.20L478.70 283.24L482.73 284.98ZM480.47 282.22a1.18 1.18 0 1 0 -2.35 0a1.18 1.18 0 1 0 2.35 0ZM483.40 284.98L487.43 283.24L486.25 281.20L482.73 283.82ZM488.02 282.22a1.18 1.18 0 1 0 -2.35 0a1.18 1.18 0 1 0 2.35 0ZM482.73 284.98L486.25 287.60L487.43 285.56L483.40 283.82ZM488.02 286.58a1.18 1.18 0 1 0 -2.35 0a1.18 1.18 0 1 0 2.35 0ZM482.73 283.82L478.70 285.56L479.88 287.60L483.40 284.98ZM480.47 286.58a1.18 1.18 0 1 0 -2.35 0a1.18 1.18 0 1 0 2.35 0ZM484.32 284.40a1.25 1.25 0 1 0 -2.5 0a1.25 1.25 0 1 0 2.5 0ZM497.01 284.40L497.51 280.32L495.16 280.32L495.66 284.40ZM497.51 280.32a1.18 1.18 0 1 0 -2.35 0a1.18 1.18 0 1 0 2.35 0ZM495.66 284.40L495.16 288.22L497.51 288.22L497.01 284.40ZM497.51 288.22a1.18 1.18 0 1 0 -2.35 0a1.18 1.18 0 1 0 2.35 0ZM496.67 283.82L493.15 281.20L491.97 283.24L496.00 284.98ZM493.74 282.22a1.18 1.18 0 1 0 -2.35 0a1.18 1.18 0 1 0 2.35 0ZM496.67 284.98L500.70 283.24L499.52 281.20L496.00 283.82ZM501.29 282.22a1.18 1.18 0 1 0 -2.35 0a1.18 1.18 0 1 0 2.35 0ZM496.00 284.98L499.52 287.60L500.70 285.56L496.67 283.82ZM501.29 286.58a1.18 1.18 0 1 0 -2.35 0a1.18 1.18 0 1 0 2.35 0ZM496.00 283.82L491.97 285.56L493.15 287.60L496.67 284.98ZM493.74 286.58a1.18 1.18 0 1 0 -2.35 0a1.18 1.18 0 1 0 2.35 0ZM497.59 284.40a1.25 1.25 0 1 0 -2.5 0a1.25 1.25 0 1 0 2.5 0ZM510.28 284.40L510.78 280.32L508.43 280.32L508.93 284.40ZM510.78 280.32a1.18 1.18 0 1 0 -2.35 0a1.18 1.18 0 1 0 2.35 0ZM508.93 284.40L508.43 288.22L510.78 288.22L510.28 284.40ZM510.78 288.22a1.18 1.18 0 1 0 -2.35 0a1.18 1.18 0 1 0 2.35 0ZM509.94 283.82L506.42 281.20L505.24 283.24L509.27 284.98ZM507.01 282.22a1.18 1.18 0 1 0 -2.35 0a1.18 1.18 0 1 0 2.35 0ZM509.94 284.98L513.97 283.24L512.79 281.20L509.27 283.82ZM514.56 282.22a1.18 1.18 0 1 0 -2.35 0a1.18 1.18 0 1 0 2.35 0ZM509.27 284.98L512.79 287.60L513.97 285.56L509.94 283.82ZM514.56 286.58a1.18 1.18 0 1 0 -2.35 0a1.18 1.18 0 1 0 2.35 0ZM509.27 283.82L505.24 285.56L506.42 287.60L509.94 284.98ZM507.01 286.58a1.18 1.18 0 1 0 -2.35 0a1.18 1.18 0 1 0 2.35 0ZM510.86 284.40a1.25 1.25 0 1 0 -2.5 0a1.25 1.25 0 1 0 2.5 0ZM548.50 284.40L549.00 280.32L546.66 280.32L547.16 284.40ZM549.00 280.32a1.18 1.18 0 1 0 -2.35 0a1.18 1.18 0 1 0 2.35 0ZM547.16 284.40L546.66 288.22L549.00 288.22L548.50 284.40ZM549.00 288.22a1.18 1.18 0 1 0 -2.35 0a1.18 1.18 0 1 0 2.35 0ZM548.17 283.82L544.64 281.20L543.47 283.24L547.49 284.98ZM545.23 282.22a1.18 1.18 0 1 0 -2.35 0a1.18 1.18 0 1 0 2.35 0ZM548.17 284.98L552.19 283.24L551.02 281.20L547.49 283.82ZM552.78 282.22a1.18 1.18 0 1 0 -2.35 0a1.18 1.18 0 1 0 2.35 0ZM547.49 284.98L551.02 287.60L552.19 285.56L548.17 283.82ZM552.78 286.58a1.18 1.18 0 1 0 -2.35 0a1.18 1.18 0 1 0 2.35 0ZM547.49 283.82L543.47 285.56L544.64 287.60L548.17 284.98ZM545.23 286.58a1.18 1.18 0 1 0 -2.35 0a1.18 1.18 0 1 0 2.35 0ZM549.08 284.40a1.25 1.25 0 1 0 -2.5 0a1.25 1.25 0 1 0 2.5 0ZM561.77 284.40L562.27 280.32L559.93 280.32L560.43 284.40ZM562.27 280.32a1.18 1.18 0 1 0 -2.35 0a1.18 1.18 0 1 0 2.35 0ZM560.43 284.40L559.93 288.22L562.27 288.22L561.77 284.40ZM562.27 288.22a1.18 1.18 0 1 0 -2.35 0a1.18 1.18 0 1 0 2.35 0ZM561.44 283.82L557.91 281.20L556.74 283.24L560.76 284.98ZM558.50 282.22a1.18 1.18 0 1 0 -2.35 0a1.18 1.18 0 1 0 2.35 0ZM561.44 284.98L565.46 283.24L564.29 281.20L560.76 283.82ZM566.05 282.22a1.18 1.18 0 1 0 -2.35 0a1.18 1.18 0 1 0 2.35 0ZM560.76 284.98L564.29 287.60L565.46 285.56L561.44 283.82ZM566.05 286.58a1.18 1.18 0 1 0 -2.35 0a1.18 1.18 0 1 0 2.35 0ZM560.76 283.82L556.74 285.56L557.91 287.60L561.44 284.98ZM558.50 286.58a1.18 1.18 0 1 0 -2.35 0a1.18 1.18 0 1 0 2.35 0ZM562.35 284.40a1.25 1.25 0 1 0 -2.5 0a1.25 1.25 0 1 0 2.5 0ZM575.04 284.40L575.54 280.32L573.20 280.32L573.70 284.40ZM575.54 280.32a1.18 1.18 0 1 0 -2.35 0a1.18 1.18 0 1 0 2.35 0ZM573.70 284.40L573.20 288.22L575.54 288.22L575.04 284.40ZM575.54 288.22a1.18 1.18 0 1 0 -2.35 0a1.18 1.18 0 1 0 2.35 0ZM574.71 283.82L571.18 281.20L570.01 283.24L574.03 284.98ZM571.77 282.22a1.18 1.18 0 1 0 -2.35 0a1.18 1.18 0 1 0 2.35 0ZM574.71 284.98L578.73 283.24L577.56 281.20L574.03 283.82ZM579.32 282.22a1.18 1.18 0 1 0 -2.35 0a1.18 1.18 0 1 0 2.35 0ZM574.03 284.98L577.56 287.60L578.73 285.56L574.71 283.82ZM579.32 286.58a1.18 1.18 0 1 0 -2.35 0a1.18 1.18 0 1 0 2.35 0ZM574.03 283.82L570.01 285.56L571.18 287.60L574.71 284.98ZM571.77 286.58a1.18 1.18 0 1 0 -2.35 0a1.18 1.18 0 1 0 2.35 0ZM575.62 284.40a1.25 1.25 0 1 0 -2.5 0a1.25 1.25 0 1 0 2.5 0Z" fill="#000" fill-rule="nonzero"/>
<rect x="771.1" y="177.7" width="35" height="17.3" fill="#000"/>
<rect x="774.1" y="180.7" width="29" height="11.3" fill="#0000ff"/>
<rect x="779.10" y="185.90" width="2" height="2" fill="#000"/>
<rect x="785.75" y="185.90" width="2" height="2" fill="#000"/>
<rect x="792.40" y="185.90" width="2" height="2" fill="#000"/>
<rect x="799.05" y="185.90" width="2" height="2" fill="#000"/>
<text transform="translate(825.90 194.92) scale(0.9434 1)" font-family='"Liberation Sans", sans-serif' font-weight="normal" font-size="27.89">PDCoV</text>
<rect x="771.1" y="222.0" width="35" height="17.3" fill="#000"/>
<rect x="774.1" y="225.0" width="29" height="11.3" fill="url(#p9)"/>
<text transform="translate(825.69 239.60) scale(0.9154 1)" font-family='"Liberation Sans", sans-serif' font-weight="normal" font-size="28.84">PEDV</text>
<rect x="771.1" y="266.1" width="35" height="17.3" fill="#000"/>
<rect x="774.1" y="269.1" width="29" height="11.3" fill="url(#p10)"/>
<text transform="translate(825.62 283.92) scale(0.9834 1)" font-family='"Liberation Sans", sans-serif' font-weight="normal" font-size="27.97">Co-infection</text>
<rect x="771.1" y="310.2" width="35" height="17.3" fill="#000"/>
<rect x="774.1" y="313.2" width="29" height="11.3" fill="url(#p11)"/>
<text transform="translate(825.92 327.63) scale(1.0157 1)" font-family='"Liberation Sans", sans-serif' font-weight="normal" font-size="27.16">Control</text></svg>
</body></html>
